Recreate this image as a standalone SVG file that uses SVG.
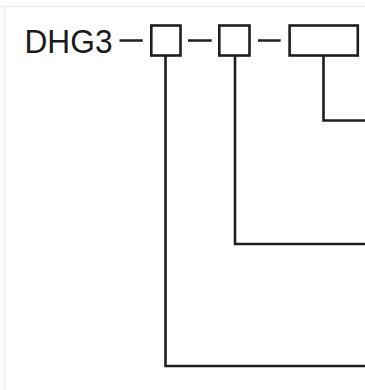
<svg xmlns="http://www.w3.org/2000/svg" width="365" height="390" viewBox="0 0 365 390">
<style>
.ln{fill:none;stroke:#1e1e1e;stroke-width:2.6;stroke-linejoin:miter;stroke-linecap:butt}
.bx{fill:#ffffff;stroke:#1e1e1e;stroke-width:2.6}
.lbl{font-family:"Liberation Sans",Arial,sans-serif;font-size:33px;fill:#1a1a1a}
</style>
<rect x="0" y="0" width="365" height="390" fill="#ffffff"/>
<path d="M0 6.5H365M4.5 6.5V390" stroke="#efefef" stroke-width="1.5" fill="none"/>
<g id="label"><text class="lbl" x="24.5" y="53.3" textLength="88" lengthAdjust="spacingAndGlyphs">DHG3</text></g>
<g id="connectors">
<path class="ln" d="M119.5 40.5H142.7M188 40.5H211.7M258 40.5H280.7"/>
<path class="ln" d="M165.5 56V366H365"/>
<path class="ln" d="M235 56V244H365"/>
<path class="ln" d="M323.5 56V120.5H365"/>
</g>
<g id="box1"><rect class="bx" x="151.3" y="25.5" width="29.2" height="30"/></g>
<g id="box2"><rect class="bx" x="219.3" y="25.5" width="30.2" height="30"/></g>
<g id="box3"><rect class="bx" x="289.6" y="25.5" width="68.2" height="30"/></g>
</svg>
